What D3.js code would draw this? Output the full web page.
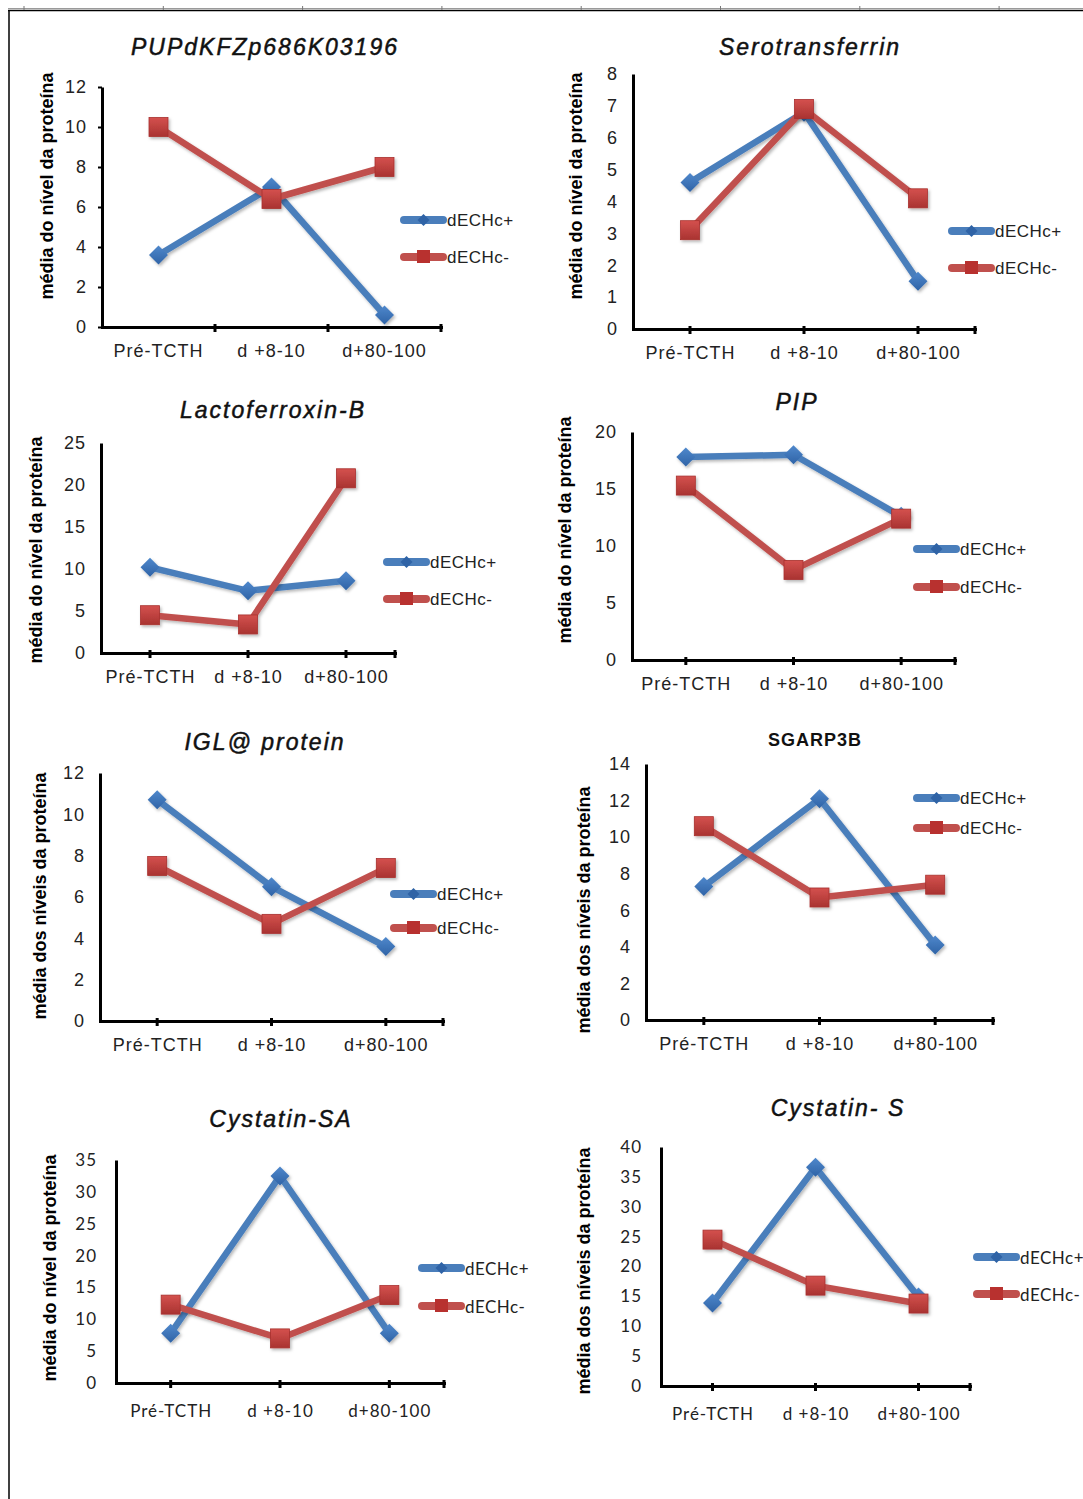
<!DOCTYPE html>
<html>
<head>
<meta charset="utf-8">
<script src="https://cdn.jsdelivr.net/npm/d3@7"></script>
<style>
  body { margin: 0; background: #fff; }
</style>
</head>
<body>
<svg id="chart" width="1083" height="1499"></svg>
<script>
// --- data ---
var categories = ["Pré-TCTH", "d +8-10", "d+80-100"];
var seriesNames = ["dECHc+", "dECHc-"];
var titles = ["PUPdKFZp686K03196", "Serotransferrin", "Lactoferroxin-B", "PIP",
              "IGL@ protein", "SGARP3B", "Cystatin-SA", "Cystatin- S"];
var yTitles = ["média do nível da proteína", "média do nívei da proteína",
               "média do nível da proteína", "média do nível da proteína",
               "média dos níveis da proteína", "média dos níveis da proteína",
               "média do nível da proteína", "média dos níveis da proteína"];
var yMax  = [12, 8, 25, 20, 12, 14, 35, 40];
var yStep = [2, 1, 5, 5, 2, 2, 5, 5];
var plusValues = [
  [3.6, 7.0, 0.6],
  [4.6, 6.8, 1.5],
  [10.2, 7.4, 8.6],
  [17.8, 18.0, 12.6],
  [10.7, 6.5, 3.6],
  [7.3, 12.1, 4.1],
  [7.8, 32.5, 7.8],
  [13.9, 36.6, 14.9]
];
var minusValues = [
  [10.0, 6.4, 8.0],
  [3.1, 6.9, 4.1],
  [4.5, 3.4, 20.8],
  [15.3, 7.9, 12.4],
  [7.5, 4.7, 7.4],
  [10.6, 6.7, 7.4],
  [12.3, 7.0, 13.8],
  [24.5, 16.8, 13.8]
];

// --- layout of each little chart on the page ---
var panels = [
  {x0: 102, x1: 441, top: 87,   bot: 327,  tx: 265, ty: 55,   yl: 47,  ylc: 186,  lx: 400, ly: 220,  ly2: 257,  mode: "between", ytick: 4},
  {x0: 633, x1: 975, top: 74,   bot: 329,  tx: 810, ty: 55,   yl: 576, ylc: 186,  lx: 948, ly: 231,  ly2: 268,  mode: "center"},
  {x0: 101, x1: 395, top: 443,  bot: 653,  tx: 273, ty: 418,  yl: 36,  ylc: 550,  lx: 383, ly: 562,  ly2: 599,  mode: "center"},
  {x0: 632, x1: 955, top: 432,  bot: 660,  tx: 797, ty: 410,  yl: 565, ylc: 530,  lx: 913, ly: 549,  ly2: 587,  mode: "center"},
  {x0: 100, x1: 443, top: 773,  bot: 1021, tx: 265, ty: 750,  yl: 40,  ylc: 896,  lx: 390, ly: 894,  ly2: 928,  mode: "center"},
  {x0: 646, x1: 993, top: 764,  bot: 1020, tx: 815, ty: 746,  yl: 584, ylc: 910,  lx: 913, ly: 798,  ly2: 828,  mode: "center", boldTitle: true},
  {x0: 116, x1: 444, top: 1160, bot: 1383, tx: 281, ty: 1127, yl: 50,  ylc: 1268, lx: 418, ly: 1268, ly2: 1306, mode: "center", calibri: true},
  {x0: 661, x1: 970, top: 1147, bot: 1386, tx: 838, ty: 1116, yl: 584, ylc: 1271, lx: 973, ly: 1257, ly2: 1294, mode: "center", calibri: true}
];

var ARIAL = "'Liberation Sans', Arial, sans-serif";
var CALIBRI = "Lato, 'Open Sans', sans-serif";
var blue = "#4a7ebb", red = "#c0504d";

var svg = d3.select("#chart");
svg.append("rect").attr("width", 1083).attr("height", 1499).attr("fill", "#fff");

var defs = svg.append("defs");
var f = defs.append("filter").attr("id", "shadow").attr("x", "-20%").attr("y", "-20%").attr("width", "140%").attr("height", "140%");
f.append("feDropShadow").attr("dx", 1.5).attr("dy", 2).attr("stdDeviation", 1.4)
  .attr("flood-color", "#000").attr("flood-opacity", 0.28);
var g1 = defs.append("linearGradient").attr("id", "redSq").attr("x1", 0).attr("y1", 0).attr("x2", 0).attr("y2", 1);
g1.append("stop").attr("offset", "0%").attr("stop-color", "#d4514e");
g1.append("stop").attr("offset", "100%").attr("stop-color", "#a93331");
var g2 = defs.append("linearGradient").attr("id", "blueDi").attr("x1", 0).attr("y1", 0).attr("x2", 0).attr("y2", 1);
g2.append("stop").attr("offset", "0%").attr("stop-color", "#4f88cc");
g2.append("stop").attr("offset", "100%").attr("stop-color", "#2f63a6");

// page frame (table borders)
var frame = svg.append("g");
frame.append("line").attr("x1", 8).attr("x2", 1083).attr("y1", 8.5).attr("y2", 8.5).attr("stroke", "#9a9a9a").attr("stroke-width", 1);
frame.append("line").attr("x1", 8).attr("x2", 1083).attr("y1", 10.5).attr("y2", 10.5).attr("stroke", "#000").attr("stroke-width", 1.6);
frame.append("line").attr("x1", 9).attr("x2", 9).attr("y1", 10).attr("y2", 1499).attr("stroke", "#000").attr("stroke-width", 1.5);
d3.range(8).forEach(function (i) {
  var xx = 24 + i * 139.3;
  frame.append("line").attr("x1", xx).attr("x2", xx).attr("y1", 6).attr("y2", 10).attr("stroke", "#777").attr("stroke-width", 1);
});

function diamondPath(r) {
  return "M0," + (-r) + "L" + r + ",0L0," + r + "L" + (-r) + ",0Z";
}

panels.forEach(function (p, i) {
  var font = p.calibri ? CALIBRI : ARIAL;
  var g = svg.append("g");

  var x = p.mode === "between"
    ? d3.scaleBand().domain(categories).range([p.x0, p.x1])
    : d3.scalePoint().domain(categories).range([p.x0, p.x1]).padding(0.5);
  var cx = function (c) { return p.mode === "between" ? x(c) + x.bandwidth() / 2 : x(c); };
  var y = d3.scaleLinear().domain([0, yMax[i]]).range([p.bot, p.top]);

  // title
  g.append("text")
    .attr("x", p.tx).attr("y", p.ty)
    .attr("text-anchor", "middle")
    .attr("font-family", ARIAL)
    .attr("font-size", p.boldTitle ? 18 : 23)
    .attr("font-weight", p.boldTitle ? "bold" : "normal")
    .attr("font-style", p.boldTitle ? "normal" : "italic")
    .attr("letter-spacing", p.boldTitle ? 1 : 2)
    .attr("fill", "#111")
    .attr("stroke", "#111")
    .attr("stroke-width", p.boldTitle ? 0 : 0.5)
    .text(titles[i]);

  // y axis title
  g.append("text")
    .attr("transform", "translate(" + p.yl + "," + p.ylc + ") rotate(-90)")
    .attr("text-anchor", "middle")
    .attr("dominant-baseline", "central")
    .attr("font-family", ARIAL)
    .attr("font-size", 18)
    .attr("font-weight", "bold")
    .attr("fill", "#000")
    .text(yTitles[i]);

  // y axis
  var ya = g.append("g").attr("transform", "translate(" + p.x0 + ",0)")
    .call(d3.axisLeft(y)
      .tickValues(d3.range(0, yMax[i] + yStep[i] / 2, yStep[i]))
      .tickSize(p.ytick || 0).tickSizeOuter(0)
      .tickPadding(p.calibri ? 19 : 15 - (p.ytick || 0)));
  ya.select(".domain").attr("stroke", "#000").attr("stroke-width", 3);
  ya.selectAll(".tick line").attr("stroke", "#000").attr("stroke-width", 2);
  ya.selectAll(".tick text")
    .attr("font-family", font).attr("font-size", p.calibri ? 17 : 18)
    .attr("letter-spacing", 1).attr("fill", "#222");

  // x axis
  var xa = g.append("g").attr("transform", "translate(0," + p.bot + ")")
    .call(d3.axisBottom(x).tickSize(0).tickSizeOuter(0).tickPadding(p.calibri ? 22 : 17));
  xa.select(".domain").attr("stroke", "#000").attr("stroke-width", 3).attr("stroke-linecap", "square");
  xa.selectAll(".tick text")
    .attr("font-family", font).attr("font-size", p.calibri ? 17 : 18)
    .attr("letter-spacing", 1).attr("fill", "#222");

  var tickXs = p.mode === "between"
    ? [1, 2, 3].map(function (k) { return p.x0 + k * x.step(); })
    : categories.map(function (c) { return x(c); }).concat([p.x1]);
  xa.selectAll("line.tk").data(tickXs).enter().append("line")
    .attr("class", "tk")
    .attr("x1", function (d) { return d; }).attr("x2", function (d) { return d; })
    .attr("y1", -3).attr("y2", 5)
    .attr("stroke", "#000").attr("stroke-width", 3);

  // series
  var series = [
    {name: seriesNames[0], values: plusValues[i], color: blue, marker: "diamond"},
    {name: seriesNames[1], values: minusValues[i], color: red, marker: "square"}
  ];
  var line = d3.line()
    .x(function (d, k) { return cx(categories[k]); })
    .y(function (d) { return y(d); });

  series.forEach(function (s) {
    var sg = g.append("g").attr("filter", "url(#shadow)");
    sg.append("path").datum(s.values)
      .attr("d", line)
      .attr("fill", "none")
      .attr("stroke", s.color)
      .attr("stroke-width", 6.5)
      .attr("stroke-linejoin", "round");
    var m = sg.selectAll("g.m").data(s.values).enter().append("g")
      .attr("transform", function (d, k) { return "translate(" + cx(categories[k]) + "," + y(d) + ")"; });
    if (s.marker === "diamond") {
      m.append("path").attr("d", diamondPath(9.5)).attr("fill", "url(#blueDi)");
    } else {
      m.append("rect").attr("x", -9.5).attr("y", -9.5).attr("width", 19).attr("height", 19)
        .attr("fill", "url(#redSq)").attr("stroke", "#a8302e").attr("stroke-width", 0.8);
    }
  });

  // legend
  var legY = [p.ly, p.ly2];
  series.forEach(function (s, k) {
    var lg = g.append("g").attr("transform", "translate(" + p.lx + "," + legY[k] + ")");
    lg.append("line").attr("x1", 4).attr("x2", 43).attr("y1", 0).attr("y2", 0)
      .attr("stroke", s.color).attr("stroke-width", 8).attr("stroke-linecap", "round");
    if (s.marker === "diamond") {
      lg.append("path").attr("transform", "translate(23.5,0)").attr("d", diamondPath(6)).attr("fill", "#2f63a6");
    } else {
      lg.append("rect").attr("x", 17).attr("y", -7).attr("width", 13).attr("height", 13).attr("fill", "#b8312f");
    }
    lg.append("text").attr("x", 47).attr("y", 0)
      .attr("dominant-baseline", "central")
      .attr("font-family", font).attr("font-size", 17)
      .attr("letter-spacing", 0.5)
      .attr("fill", "#222")
      .text(s.name);
  });
});
</script>
</body>
</html>
